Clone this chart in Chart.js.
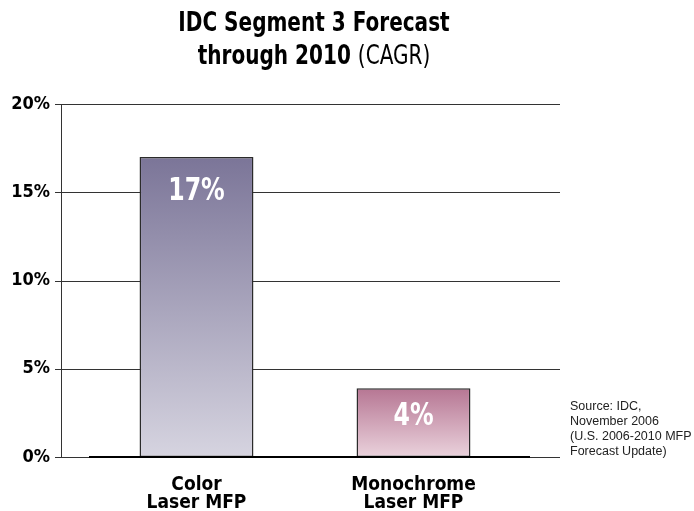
<!DOCTYPE html>
<html>
<head>
<meta charset="utf-8">
<script src="https://cdn.jsdelivr.net/npm/chart.js@4.4.1/dist/chart.umd.min.js"></script>
<style>
  body { margin: 0; background: #fff; }
  #wrap { position: relative; width: 694px; height: 511px; }
  #title {
    position: absolute; left: 0; top: 5px; width: 628px; text-align: center;
    font-family: "DejaVu Sans Condensed", "Liberation Sans", sans-serif;
    font-size: 27px; line-height: 33px; font-weight: bold; color: #000;
    transform: scaleX(0.825); transform-origin: 314px 0;
  }
  #title span { font-weight: normal; }
  #source {
    position: absolute; left: 570px; top: 399px;
    font-family: "Liberation Sans", Arial, sans-serif;
    font-size: 12.5px; line-height: 15px; color: #222;
  }
</style>
</head>
<body>
<div id="wrap">
  <canvas id="chart" width="694" height="511"></canvas>
  <div id="title">IDC Segment 3 Forecast<br>through 2010 <span>(CAGR)</span></div>
  <div id="source">Source: IDC,<br>November 2006<br>(U.S. 2006-2010 MFP<br>Forecast Update)</div>
</div>
<script>
// Chart data
const categories = [['Color', 'Laser MFP'], ['Monochrome', 'Laser MFP']];
const cagrValues = [17, 3.9];
const valueLabels = ['17%', '4%'];
const yTicks = [0, 5, 10, 15, 20];

const gradientStops = [
  ['#7b7598', '#d6d4e0'],
  ['#b67693', '#ead2dc']
];

const condensed = '"DejaVu Sans Condensed", "Liberation Sans", sans-serif';

// gridlines, axis line and value labels drawn around the bars
const decorations = {
  id: 'decorations',
  beforeDatasetsDraw(chart) {
    const { ctx, chartArea, scales } = chart;
    ctx.save();
    ctx.strokeStyle = '#333';
    ctx.lineWidth = 1;
    yTicks.forEach(t => {
      const y = Math.round(scales.y.getPixelForValue(t)) + 0.5;
      ctx.beginPath();
      ctx.moveTo(chartArea.left - 33, y);
      ctx.lineTo(chartArea.right + 38, y);
      ctx.stroke();
    });
    const x = chartArea.left - 27 + 0.5;
    ctx.beginPath();
    ctx.moveTo(x, scales.y.getPixelForValue(20));
    ctx.lineTo(x, scales.y.getPixelForValue(0));
    ctx.stroke();
    ctx.restore();
  },
  afterDatasetsDraw(chart) {
    const { ctx, chartArea, scales } = chart;
    ctx.save();
    const y0 = scales.y.getPixelForValue(0);
    ctx.strokeStyle = '#000';
    ctx.lineWidth = 2;
    ctx.beginPath();
    ctx.moveTo(chartArea.left + 1, y0);
    ctx.lineTo(chartArea.right + 8, y0);
    ctx.stroke();

    const meta = chart.getDatasetMeta(0);
    ctx.fillStyle = '#fff';
    ctx.font = 'bold 32px ' + condensed;
    ctx.textAlign = 'center';
    ctx.textBaseline = 'alphabetic';
    meta.data.forEach((bar, i) => {
      const drop = Math.min(43, (bar.base - bar.y) * 0.54);
      ctx.save();
      ctx.translate(bar.x, bar.y + drop);
      ctx.scale(0.82, 1);
      ctx.fillText(valueLabels[i], 0, 0);
      ctx.restore();
    });
    ctx.restore();
  }
};

const ctx = document.getElementById('chart').getContext('2d');
new Chart(ctx, {
  type: 'bar',
  data: {
    labels: categories,
    datasets: [{
      data: cagrValues,
      backgroundColor(c) {
        const chart = c.chart;
        if (!chart.chartArea) return gradientStops[c.dataIndex][0];
        const y = chart.scales.y;
        const top = y.getPixelForValue(cagrValues[c.dataIndex]);
        const g = chart.ctx.createLinearGradient(0, top, 0, y.getPixelForValue(0));
        g.addColorStop(0, gradientStops[c.dataIndex][0]);
        g.addColorStop(1, gradientStops[c.dataIndex][1]);
        return g;
      },
      borderColor: '#2b2b2b',
      borderWidth: 1.5,
      borderSkipped: false,
      categoryPercentage: 1,
      barPercentage: 0.525
    }]
  },
  options: {
    responsive: false,
    animation: false,
    layout: { padding: { top: 104, right: 172, left: 0, bottom: 0 } },
    plugins: { legend: { display: false }, tooltip: { enabled: false } },
    scales: {
      x: {
        grid: { display: false },
        border: { display: false },
        afterFit(s) { s.height = 54; },
        ticks: {
          color: '#000',
          padding: 12,
          maxRotation: 0,
          font: { family: condensed, size: 19, weight: 'bold', lineHeight: 0.9 }
        }
      },
      y: {
        min: 0,
        max: 20,
        grid: { display: false, drawTicks: false },
        border: { display: false },
        afterFit(s) { s.width = 88; },
        ticks: {
          stepSize: 5,
          padding: 38,
          color: '#000',
          font: { family: condensed, size: 18, weight: 'bold' },
          callback: v => v + '%'
        }
      }
    }
  },
  plugins: [decorations]
});
</script>
</body>
</html>
